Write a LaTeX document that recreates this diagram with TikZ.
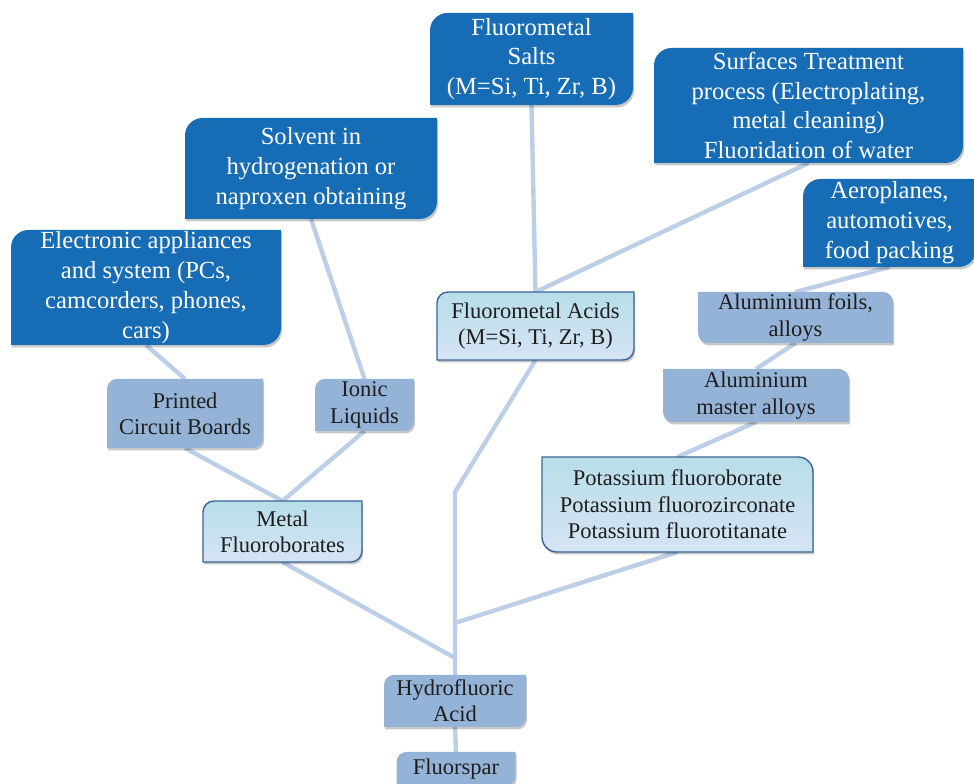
\documentclass[tikz,border=0pt]{standalone}
\usepackage{fontspec}
\setmainfont{Liberation Serif}
\usetikzlibrary{backgrounds}

\definecolor{leafblue}{RGB}{23,109,181}
\definecolor{stoneblue}{RGB}{149,179,215}
\definecolor{icetop}{RGB}{183,222,232}
\definecolor{icebottom}{RGB}{214,228,245}
\definecolor{rimblue}{RGB}{60,100,150}
\definecolor{stemblue}{RGB}{188,207,230}
\definecolor{inkgrey}{RGB}{30,30,30}

\tikzset{
 txtdark/.style={text=white, font=\fontsize{14}{17}\selectfont, align=center, inner sep=0pt, outer sep=0pt},
 txtlight/.style={text=inkgrey, font=\fontsize{12.8}{15}\selectfont, align=center, inner sep=0pt, outer sep=0pt},
 boxshade/.style={preaction={fill=black, opacity=0.22, transform canvas={shift={(0.7pt,-1.4pt)}}}},
 darkbox/.style={boxshade, fill=leafblue},
 greybox/.style={boxshade, fill=stoneblue},
 icebox/.style={boxshade, top color=icetop, bottom color=icebottom, draw=rimblue, line width=0.8pt},
 stem/.style={draw=stemblue, line width=2.5pt}
}

% box with round top-left and bottom-right corners
\newcommand{\leafnw}[3]{\path[#3] (#1.south west) -- ([yshift=-#2]#1.north west) arc[start angle=180, end angle=90, radius=#2] -- (#1.north east) -- ([yshift=#2]#1.south east) arc[start angle=0, end angle=-90, radius=#2] -- cycle;}
% box with round top-right and bottom-left corners
\newcommand{\leafne}[3]{\path[#3] (#1.north west) -- ([xshift=-#2]#1.north east) arc[start angle=90, end angle=0, radius=#2] -- (#1.south east) -- ([xshift=#2]#1.south west) arc[start angle=270, end angle=180, radius=#2] -- cycle;}

\begin{document}
\begin{tikzpicture}
\useasboundingbox (0,0) rectangle (19.48,15.68);

\node[txtdark, minimum width=4.06cm, minimum height=1.84cm] (salts) at (10.63,14.50) {Fluorometal\\Salts\\(M=Si, Ti, Zr, B)};
\node[txtdark, minimum width=5.04cm, minimum height=2.02cm] (solvent) at (6.22,12.31) {Solvent in\\hydrogenation or\\naproxen obtaining};
\node[txtdark, minimum width=5.40cm, minimum height=2.30cm] (devices) at (2.92,9.93) {Electronic appliances\\and system (PCs,\\camcorders, phones,\\cars)};
\node[txtdark, minimum width=6.18cm, minimum height=2.30cm] (surfaces) at (16.17,13.57) {Surfaces Treatment\\process (Electroplating,\\metal cleaning)\\Fluoridation of water};
\node[txtdark, minimum width=3.46cm, minimum height=1.76cm] (aero) at (17.79,11.22) {Aeroplanes,\\automotives,\\food packing};

\node[txtlight, minimum width=3.94cm, minimum height=1.36cm] (acids) at (10.71,9.16) {Fluorometal Acids\\(M=Si, Ti, Zr, B)};
\node[txtlight, minimum width=3.90cm, minimum height=1.02cm] (foils) at (15.91,9.33) {Aluminium foils,\\alloys};
\node[txtlight, minimum width=3.72cm, minimum height=1.06cm] (master) at (15.12,7.77) {Aluminium\\master alloys};
\node[txtlight, minimum width=3.12cm, minimum height=1.38cm] (pcb) at (3.70,7.41) {Printed\\Circuit Boards};
\node[txtlight, minimum width=1.98cm, minimum height=1.04cm] (ionic) at (7.29,7.58) {Ionic\\Liquids};
\node[txtlight, minimum width=3.18cm, minimum height=1.22cm] (borates) at (5.65,5.05) {Metal\\Fluoroborates};
\node[txtlight, minimum width=5.42cm, minimum height=1.90cm] (potassium) at (13.55,5.59) {Potassium fluoroborate\\Potassium fluorozirconate\\Potassium fluorotitanate};
\node[txtlight, minimum width=2.84cm, minimum height=1.04cm] (hf) at (9.10,1.66) {Hydrofluoric\\Acid};
\node[txtlight, minimum width=2.38cm, minimum height=0.68cm] (spar) at (9.12,0.30) {Fluorspar};

\coordinate (bend) at (hf.north |- 0,5.84);
\coordinate (kjoin) at (hf.north |- 0,3.22);
\coordinate (bjoin) at (hf.north |- 0,2.52);

\begin{pgfonlayer}{background}
\draw[stem] (hf.north) -- (bend) -- (acids.south);
\draw[stem] (borates.south) -- (bjoin);
\draw[stem] (potassium.south) -- (kjoin);
\draw[stem] (hf.south) -- (spar.north);
\draw[stem] (pcb.south) -- (borates.north);
\draw[stem] (ionic.south) -- (borates.north);
\draw[stem] (devices.south) -- (pcb.north);
\draw[stem] (solvent.south) -- (ionic.north);
\draw[stem] (acids.north) -- (salts.south);
\draw[stem] (acids.north) -- (surfaces.south);
\draw[stem] (potassium.north) -- (master.south);
\draw[stem] (master.north) -- (foils.south);
\draw[stem] (foils.north) -- (aero.south);

\leafnw{salts}{0.35cm}{darkbox}
\leafnw{solvent}{0.35cm}{darkbox}
\leafnw{devices}{0.35cm}{darkbox}
\leafnw{surfaces}{0.35cm}{darkbox}
\leafnw{aero}{0.35cm}{darkbox}
\leafnw{acids}{0.22cm}{icebox}
\leafnw{borates}{0.22cm}{icebox}
\leafne{potassium}{0.3cm}{icebox}
\leafne{foils}{0.2cm}{greybox}
\leafne{master}{0.2cm}{greybox}
\leafnw{pcb}{0.2cm}{greybox}
\leafnw{ionic}{0.2cm}{greybox}
\leafnw{hf}{0.2cm}{greybox}
\leafnw{spar}{0.2cm}{greybox}
\end{pgfonlayer}
\end{tikzpicture}
\end{document}
